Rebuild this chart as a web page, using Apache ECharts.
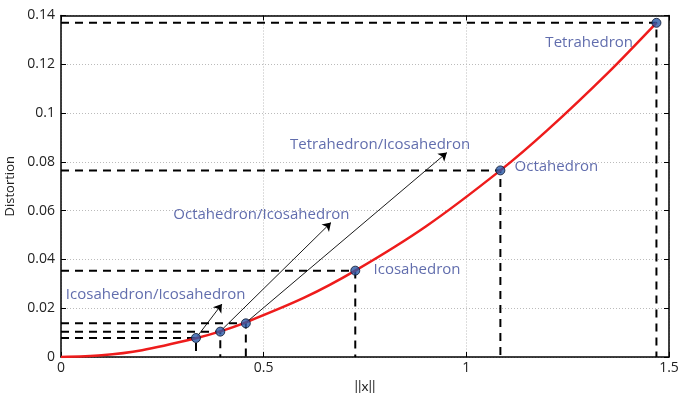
<!DOCTYPE html>
<html><head><meta charset="utf-8">
<script src="https://cdn.jsdelivr.net/npm/echarts@6/dist/echarts.min.js"></script>
<style>html,body{margin:0;padding:0;background:#fff}#c{width:679px;height:393px}</style>
</head><body><div id="c"></div>
<script>
// red curve
const curveX = [0, 0.1, 0.2, 0.333, 0.393, 0.456, 0.6, 0.726, 0.9, 1.084, 1.2, 1.35, 1.469];
const curveY = [0, 0.0007, 0.0028, 0.0077, 0.0105, 0.0142, 0.0243, 0.0354, 0.0535, 0.0765, 0.093, 0.1166, 0.137];
// marked points
const pointNames = ['Icosahedron/Icosahedron', 'Octahedron/Icosahedron', 'Tetrahedron/Icosahedron', 'Icosahedron', 'Octahedron', 'Tetrahedron'];
const pointX = [0.333, 0.393, 0.456, 0.726, 1.084, 1.469];
const pointY = [0.0078, 0.0104, 0.0138, 0.0354, 0.0765, 0.137];
// annotations (label anchor in data units)
const labelX = [0.012, 0.277, 0.565, 0.771, 1.119, 1.195];
const labelY = [0.0254, 0.0582, 0.0869, 0.0357, 0.078, 0.129];
// arrow heads for the three ratio labels
const arrowHeadX = [0.397, 0.666, 0.952];
const arrowHeadY = [0.0217, 0.0551, 0.0838];
const xTicks = [0, 0.5, 1, 1.5];
const yTicks = [0, 0.02, 0.04, 0.06, 0.08, 0.1, 0.12, 0.14];

const font = 'Open Sans';
const series = [];
// dashed guide lines
pointX.forEach((x, i) => {
  series.push({
    type: 'line', xAxisIndex: 0, yAxisIndex: 0, symbol: 'none', silent: true, z: 2,
    data: [[0, pointY[i]], [x, pointY[i]], [x, 0]],
    lineStyle: { color: '#000', width: 2, type: [8, 6] }
  });
});
// red curve
series.push({
  type: 'line', symbol: 'none', smooth: 0.3, z: 3,
  data: curveX.map((x, i) => [x, curveY[i]]),
  lineStyle: { color: '#ee1c1c', width: 2.5 }
});
// arrows
series.push({
  type: 'lines', coordinateSystem: 'cartesian2d', z: 4,
  symbol: ['none', 'arrow'], symbolSize: [5, 8],
  lineStyle: { color: '#000', width: 0.9, opacity: 1 },
  data: arrowHeadX.map((x, i) => ({ coords: [[pointX[i] + 0.004, pointY[i] + 0.0008], [x, arrowHeadY[i]]] }))
});
// points
series.push({
  type: 'scatter', symbolSize: 9, z: 5,
  data: pointX.map((x, i) => [x, pointY[i]]),
  itemStyle: { color: '#2a5aa8', borderColor: '#0a1530', borderWidth: 1 }
});
// labels
series.push({
  type: 'scatter', symbolSize: 0, z: 6, silent: true,
  data: labelX.map((x, i) => ({ value: [x, labelY[i]], name: pointNames[i] })),
  label: { show: true, position: 'right', distance: 0, formatter: p => p.name,
    color: '#3a4899', fontFamily: font, fontSize: 15 }
});

const chart = echarts.init(document.getElementById('c'));
chart.setOption({
  animation: false,
  grid: { left: 61, right: 10, top: 15.5, bottom: 36, containLabel: false, outerBoundsMode: 'none' },
  xAxis: [{
    type: 'value', min: 0, max: 1.5, interval: 0.5, position: 'bottom',
    name: '||x||', nameLocation: 'middle', nameGap: 21,
    nameTextStyle: { color: '#222', fontFamily: 'Lato', fontSize: 14 },
    axisLine: { show: true, onZero: false, lineStyle: { color: '#000', width: 1.5 } },
    axisTick: { show: true, inside: true, length: 5, lineStyle: { color: '#000' } },
    axisLabel: { color: '#222', fontFamily: font, fontSize: 14, margin: 4,
      formatter: v => xTicks.includes(v) ? String(v) : '' },
    splitLine: { show: true, lineStyle: { color: '#bbb', type: [1, 2] } }
  }, {
    type: 'value', min: 0, max: 1.5, interval: 0.5, position: 'top',
    axisLine: { show: true, onZero: false, lineStyle: { color: '#000', width: 1.5 } },
    axisTick: { show: true, inside: true, length: 5, lineStyle: { color: '#000' } },
    axisLabel: { show: false }, splitLine: { show: false }
  }],
  yAxis: [{
    type: 'value', min: 0, max: 0.14, interval: 0.02, position: 'left',
    name: 'Distortion', nameLocation: 'middle', nameGap: 40,
    nameTextStyle: { color: '#222', fontFamily: font, fontSize: 13 },
    axisLine: { show: true, onZero: false, lineStyle: { color: '#000', width: 1.5 } },
    axisTick: { show: true, inside: true, length: 5, lineStyle: { color: '#000' } },
    axisLabel: { color: '#222', fontFamily: font, fontSize: 14, margin: 6,
      formatter: v => { const t = yTicks.find(k => Math.abs(k - v) < 1e-9); return t === undefined ? '' : String(+t.toFixed(2)); } },
    splitLine: { show: true, lineStyle: { color: '#bbb', type: [1, 2] } }
  }, {
    type: 'value', min: 0, max: 0.14, interval: 0.02, position: 'right',
    axisLine: { show: true, onZero: false, lineStyle: { color: '#000', width: 1.5 } },
    axisTick: { show: true, inside: true, length: 5, lineStyle: { color: '#000' } },
    axisLabel: { show: false }, splitLine: { show: false }
  }],
  series: series
});
</script></body></html>
